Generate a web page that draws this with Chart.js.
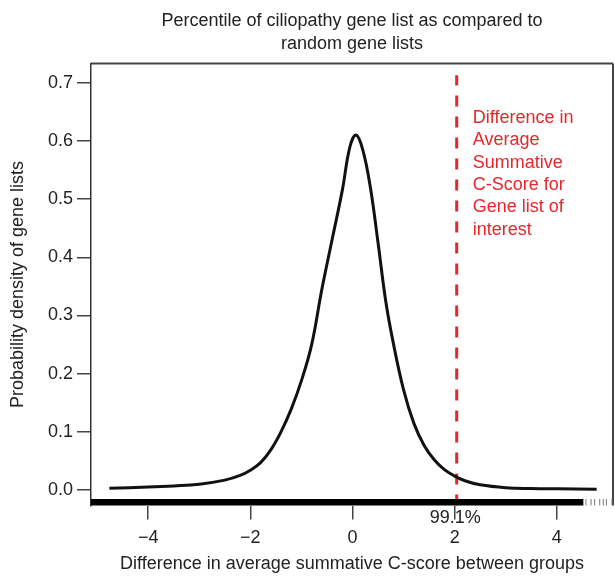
<!DOCTYPE html>
<html>
<head>
<meta charset="utf-8">
<script src="https://cdn.jsdelivr.net/npm/chart.js@4/dist/chart.umd.min.js"></script>
<style>
  html, body { margin: 0; padding: 0; background: #fff; }
  #wrap { width: 615px; height: 577px; }
</style>
</head>
<body>
<div id="wrap"><canvas id="chart" width="615" height="577"></canvas></div>
<script>
// density curve
const diffValues = [-4.76, -4.0, -3.5, -3.0, -2.5, -2.2, -2.0, -1.8, -1.6, -1.4, -1.2, -1.0, -0.8, -0.6, -0.4, -0.2, -0.05, 0.07, 0.2, 0.35, 0.5, 0.65, 0.8, 1.0, 1.2, 1.4, 1.6, 1.8, 2.0, 2.2, 2.5, 3.0, 3.5, 4.0, 4.78];
const densityValues = [0.003, 0.005, 0.007, 0.010, 0.017, 0.025, 0.034, 0.047, 0.069, 0.100, 0.139, 0.188, 0.25, 0.345, 0.43, 0.515, 0.59, 0.61, 0.585, 0.52, 0.425, 0.325, 0.252, 0.172, 0.115, 0.077, 0.052, 0.035, 0.024, 0.016, 0.009, 0.004, 0.0025, 0.002, 0.0015];

// rug of random gene lists along the bottom (solid part + sparse right tail)
const rugSolid = [-5.12, 4.52];
const rugSparse = [4.57, 4.67, 4.74, 4.84, 4.91, 4.97, 5.08];
const rugLevel = -0.021;

// observed value for the gene list of interest
const observedDiff = 2.04;
const percentileText = '99.1%';
const noteLines = ['Difference in', 'Average', 'Summative', 'C-Score for', 'Gene list of', 'interest'];

const xTicks = [-4, -2, 0, 2, 4];
const yTicks = [0, 0.1, 0.2, 0.3, 0.4, 0.5, 0.6, 0.7];
const xRange = [-5.12, 5.10];
const yRange = [-0.0266, 0.733];

const FONT = 'Liberation Sans, Arial, Helvetica, sans-serif';
const INK = '#222';
const RED = '#e8262b';

const curve = diffValues.map((x, i) => ({ x: x, y: densityValues[i] }));

// text labels: the red note and the percentile under the axis
const notesPlugin = {
  id: 'notes',
  afterDraw(chart) {
    const ctx = chart.ctx;
    const xs = chart.scales.x, ys = chart.scales.y;
    const lx = xs.getPixelForValue(observedDiff);
    ctx.save();
    ctx.font = '18px ' + FONT;
    ctx.fillStyle = RED;
    ctx.textAlign = 'left';
    ctx.textBaseline = 'middle';
    let ty = ys.getPixelForValue(0.639);
    noteLines.forEach(line => {
      ctx.fillText(line, lx + 16, ty);
      ty += 22.3;
    });
    ctx.fillStyle = INK;
    ctx.textAlign = 'center';
    ctx.fillText(percentileText, lx - 1.5, ys.bottom + 13);
    ctx.restore();
  }
};

new Chart(document.getElementById('chart'), {
  type: 'line',
  data: {
    datasets: [
      {
        // rug band
        data: rugSolid.map(x => ({ x: x, y: rugLevel })),
        borderColor: '#000',
        borderWidth: 6.5,
        borderCapStyle: 'butt',
        pointRadius: 0,
        clip: false
      },
      {
        type: 'scatter',
        data: rugSparse.map(x => ({ x: x, y: rugLevel })),
        pointStyle: 'line',
        rotation: 90,
        pointRadius: 3.2,
        borderWidth: 1,
        borderColor: '#777',
        clip: false
      },
      {
        data: curve,
        borderColor: '#111',
        borderWidth: 3,
        pointRadius: 0,
        tension: 0.4
      },
      {
        data: [{ x: observedDiff, y: yRange[0] }, { x: observedDiff, y: 0.713 }],
        borderColor: RED,
        borderWidth: 3,
        borderDash: [11, 10],
        borderCapStyle: 'butt',
        pointRadius: 0,
        clip: false
      }
    ]
  },
  options: {
    responsive: false,
    animation: false,
    events: [],
    layout: { autoPadding: false, padding: { left: 0, right: 2, top: 0, bottom: 0 } },
    plugins: {
      legend: { display: false },
      tooltip: { enabled: false },
      title: {
        display: true,
        fullSize: false,
        text: ['Percentile of ciliopathy gene list as compared to', 'random gene lists'],
        color: INK,
        font: { family: FONT, size: 18, weight: 'normal', lineHeight: 23 / 18 },
        padding: { top: 10, bottom: 7.5 }
      }
    },
    scales: {
      x: {
        type: 'linear',
        min: xRange[0],
        max: xRange[1],
        afterFit(scale) {
          scale.height = 71.5;
          scale.paddingLeft = 0;
          scale.paddingRight = 0;
        },
        afterBuildTicks(scale) { scale.ticks = xTicks.map(v => ({ value: v })); },
        border: { display: false },
        grid: { drawOnChartArea: false, drawTicks: true, tickLength: 14, color: '#444', lineWidth: 1.5 },
        ticks: {
          color: INK,
          padding: 8,
          maxRotation: 0,
          font: { family: FONT, size: 18 },
          callback: v => (v < 0 ? '\u2212' + Math.abs(v) : String(v))
        },
        title: {
          display: true,
          text: 'Difference in average summative C-score between groups',
          color: INK,
          font: { family: FONT, size: 18 },
          padding: { top: 0, bottom: 2 }
        }
      },
      y: {
        min: yRange[0],
        max: yRange[1],
        afterFit(scale) { scale.width = 91; },
        afterBuildTicks(scale) { scale.ticks = yTicks.map(v => ({ value: v })); },
        border: { display: true, color: '#333', width: 1.5 },
        grid: { drawOnChartArea: false, drawTicks: true, tickLength: 14, color: '#444', lineWidth: 1.5 },
        ticks: {
          color: INK,
          padding: 4,
          font: { family: FONT, size: 18 },
          callback: v => v.toFixed(1)
        },
        title: {
          display: true,
          text: 'Probability density of gene lists',
          color: INK,
          font: { family: FONT, size: 18 },
          padding: { top: 7, bottom: 0 }
        }
      }
    }
  },
  plugins: [notesPlugin, {
    // top and right frame lines of the plot box
    id: 'frame',
    beforeDatasetsDraw(chart) {
      const { ctx, chartArea: a } = chart;
      ctx.save();
      ctx.strokeStyle = '#444';
      ctx.lineWidth = 2;
      ctx.beginPath();
      ctx.moveTo(a.left, a.top);
      ctx.lineTo(a.right, a.top);
      ctx.moveTo(a.right, a.top);
      ctx.lineTo(a.right, a.bottom);
      ctx.stroke();
      ctx.restore();
    }
  }]
});
</script>
</body>
</html>
